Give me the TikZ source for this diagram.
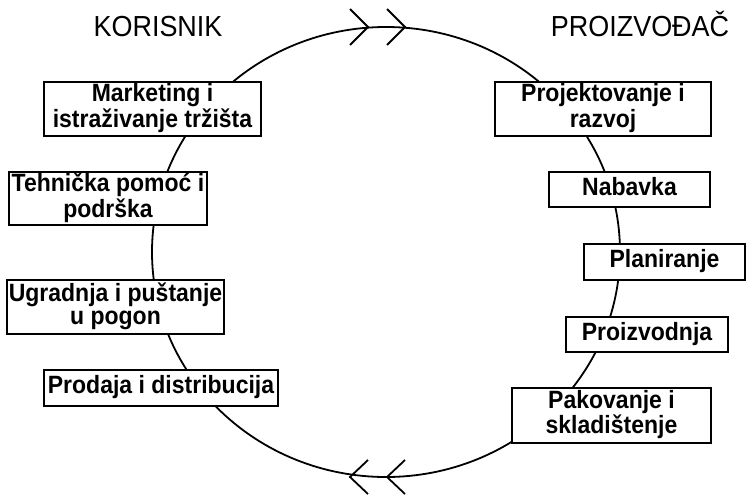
\documentclass[tikz,border=0pt]{standalone}
\usepackage{fontspec}
\setmainfont{Liberation Sans}
\usetikzlibrary{calc}
\newcommand\boxtxt[1]{\scalebox{0.92}[1]{\begin{tabular}{@{}c@{}}#1\end{tabular}}}
\newcommand\ttltxt[1]{\scalebox{0.93}[1]{#1}}
\begin{document}
\begin{tikzpicture}[x=1pt,y=-1pt,
  stagebox/.style={draw=black, line width=1.6pt, fill=white, align=center, inner sep=0pt,
    font=\fontsize{25}{23.5}\selectfont\bfseries},
  titletext/.style={font=\fontsize{29}{30}\selectfont, anchor=base},
  cyc/.style={line width=1.8pt, black},
  chev/.style={line width=1.8pt, black}]
\useasboundingbox (0,0) rectangle (747,496);
% cycle
\draw[cyc] (386,252) ellipse [x radius=234, y radius=225];
% chevrons
\coordinate (t1) at (368,27);
\coordinate (t2) at (405,27);
\coordinate (b1) at (350,477);
\coordinate (b2) at (387,477);
\foreach \c in {t1,t2}{\draw[chev] ($(\c)+(-18,-18)$) -- (\c) -- ($(\c)+(-18,18)$);}
\foreach \c in {b1,b2}{\draw[chev] ($(\c)+(18,-17)$) -- (\c) -- ($(\c)+(18,17)$);}
% titles
\node[titletext] (kor) at (158,36) {\ttltxt{KORISNIK}};
\node[titletext] (pro) at (640,36) {\ttltxt{PROIZVOĐAČ}};
% user side
\node[stagebox, minimum width=217, minimum height=54] (m1) at (152.5,109) {\boxtxt{Marketing i\\istraživanje tržišta}};
\node[stagebox, minimum width=198, minimum height=53] (m2) at (108,198.5) {\boxtxt{Tehnička pomoć i\\podrška}};
\node[stagebox, minimum width=217, minimum height=54] (m3) at (115.5,307) {\boxtxt{Ugradnja i puštanje\\u pogon}};
\node[stagebox, minimum width=234, minimum height=36] (m4) at (161,388) {\boxtxt{Prodaja i distribucija}};
% producer side
\node[stagebox, minimum width=216, minimum height=54] (p1) at (603,109) {\boxtxt{Projektovanje i\\razvoj}};
\node[stagebox, minimum width=161, minimum height=35] (p2) at (629.5,189.5) {\boxtxt{Nabavka}};
\node[stagebox, minimum width=161, minimum height=36] (p3) at (664.5,262) {\boxtxt{Planiranje}};
\node[stagebox, minimum width=162, minimum height=35] (p4) at (647,334.5) {\boxtxt{Proizvodnja}};
\node[stagebox, minimum width=199, minimum height=55] (p5) at (611.5,415.5) {\boxtxt{Pakovanje i\\skladištenje}};
\end{tikzpicture}
\end{document}
